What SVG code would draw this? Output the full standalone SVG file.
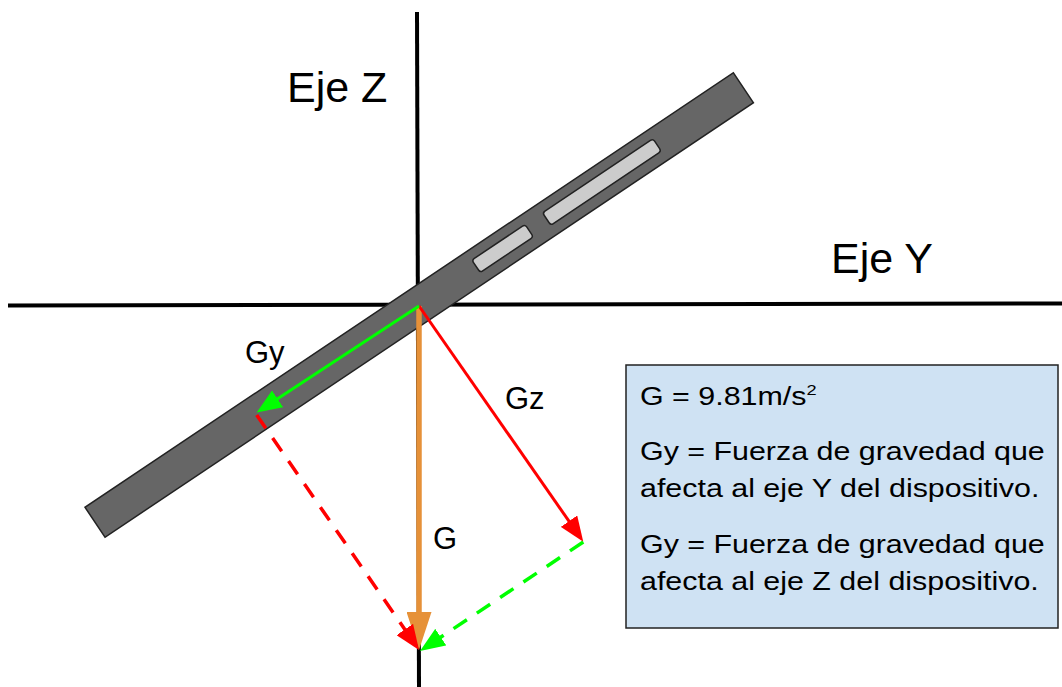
<svg xmlns="http://www.w3.org/2000/svg" width="1062" height="687" viewBox="0 0 1062 687">
<style>
.axis{stroke:#000;stroke-width:4;fill:none}
.lbl{font-family:"Liberation Sans",Arial,sans-serif;fill:#000}
.big{font-size:43px}
.vl{font-size:31px}
.box{font-size:25px}
.bar{fill:#666;stroke:#222;stroke-width:1.5}
.slot{fill:#ccc;stroke:#222;stroke-width:1.5}
.vec{fill:none;stroke-width:3}
.g{stroke:#e69138;stroke-width:5.5}
.dash{stroke-width:3.5;stroke-dasharray:16 12}
</style>
<defs>
<marker id="aRed" markerUnits="userSpaceOnUse" markerWidth="25" markerHeight="20" refX="10" refY="10" orient="auto"><path d="M0,0 L25,10 L0,20 z" fill="#f00"/></marker>
<marker id="aGreen" markerUnits="userSpaceOnUse" markerWidth="25" markerHeight="20" refX="10" refY="10" orient="auto"><path d="M0,0 L25,10 L0,20 z" fill="#0f0"/></marker>
<marker id="aOrange" markerUnits="userSpaceOnUse" markerWidth="38" markerHeight="25" refX="18" refY="12.5" orient="auto"><path d="M0,0 L38,12.5 L0,25 z" fill="#e69138"/></marker>
</defs>
<g id="axes">
<line class="axis" x1="8" y1="305.5" x2="1062" y2="303.5"/>
<line class="axis" x1="417" y1="12" x2="419" y2="687"/>
</g>
<g id="device" transform="translate(85,507.3) rotate(-33.83)">
<rect class="bar" x="0" y="0" width="780.5" height="36"/>
<rect class="slot" x="459" y="10" width="64" height="15" rx="3"/>
<rect class="slot" x="544" y="10" width="133" height="15" rx="3"/>
</g>
<g id="connectors">
<line class="vec g" x1="419" y1="306" x2="419" y2="630" marker-end="url(#aOrange)"/>
<line class="vec" stroke="#f00" x1="419" y1="306" x2="574.7" y2="529.4" marker-end="url(#aRed)"/>
<line class="vec" stroke="#0f0" x1="419" y1="306" x2="269.2" y2="404.3" marker-end="url(#aGreen)"/>
<line class="vec dash" stroke="#f00" x1="256.7" y1="415" x2="410.5" y2="637.7" marker-end="url(#aRed)"/>
<line class="vec dash" stroke="#0f0" x1="583.3" y1="542" x2="432.5" y2="642.7" marker-end="url(#aGreen)"/>
</g>
<g id="label-ejez"><text class="lbl big" x="287" y="102">Eje Z</text></g>
<g id="label-ejey"><text class="lbl big" x="831" y="273">Eje Y</text></g>
<g id="label-gy"><text class="lbl vl" x="245" y="363">Gy</text></g>
<g id="label-gz"><text class="lbl vl" x="505" y="409">Gz</text></g>
<g id="label-g"><text class="lbl vl" x="433" y="549">G</text></g>
<g id="legend">
<rect x="626" y="365" width="432" height="263" fill="#cfe2f3" stroke="#222" stroke-width="1.5"/>
<g transform="matrix(1.216 0 0 1 640 0)">
<text class="lbl box" x="0" y="405">G = 9.81m/s<tspan font-size="15" dy="-10">2</tspan></text>
<text class="lbl box" x="0" y="460">Gy = Fuerza de gravedad que</text>
<text class="lbl box" x="0" y="497">afecta al eje Y del dispositivo.</text>
<text class="lbl box" x="0" y="553">Gy = Fuerza de gravedad que</text>
<text class="lbl box" x="0" y="590">afecta al eje Z del dispositivo.</text>
</g>
</g>
</svg>
